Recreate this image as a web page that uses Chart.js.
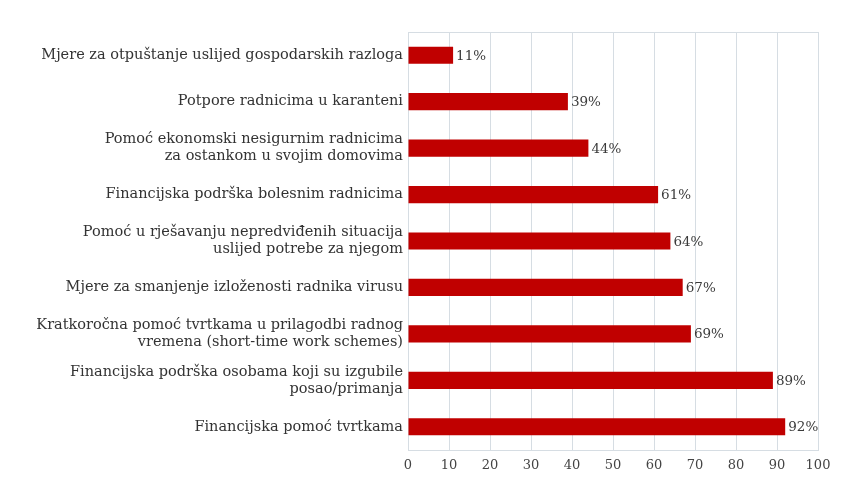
<!DOCTYPE html>
<html>
<head>
<meta charset="utf-8">
<script src="https://cdn.jsdelivr.net/npm/chart.js@4/dist/chart.umd.min.js"></script>
<style>
  html, body { margin: 0; padding: 0; background: #fff; }
  #wrap { width: 841px; height: 481px; }
</style>
</head>
<body>
<div id="wrap"><canvas id="myChart" width="841" height="481"></canvas></div>
<script>
// kategorije (od vrha prema dnu)
const categories = [
    'Mjere za otpuštanje uslijed gospodarskih razloga',
    'Potpore radnicima u karanteni',
    ['Pomoć ekonomski nesigurnim radnicima', 'za ostankom u svojim domovima'],
    'Financijska podrška bolesnim radnicima',
    ['Pomoć u rješavanju nepredviđenih situacija', 'uslijed potrebe za njegom'],
    'Mjere za smanjenje izloženosti radnika virusu',
    ['Kratkoročna pomoć tvrtkama u prilagodbi radnog', 'vremena (short-time work schemes)'],
    ['Financijska podrška osobama koji su izgubile', 'posao/primanja'],
    'Financijska pomoć tvrtkama'
];

// postoci
const values = [11, 39, 44, 61, 64, 67, 69, 89, 92];

const xTicks = [0, 10, 20, 30, 40, 50, 60, 70, 80, 90, 100];

const serif = "DejaVu Serif";

// oznake vrijednosti na kraju stupaca
const valueLabels = {
    id: 'valueLabels',
    afterDatasetsDraw(chart) {
        const ctx = chart.ctx;
        const meta = chart.getDatasetMeta(0);
        ctx.save();
        ctx.font = '13.5px "' + serif + '"';
        ctx.fillStyle = '#3a3a3a';
        ctx.textBaseline = 'middle';
        ctx.textAlign = 'left';
        meta.data.forEach((bar, i) => {
            ctx.fillText(values[i] + '%', bar.x + 3, bar.y + 1);
        });
        ctx.restore();
    }
};

// okvir oko područja grafa
const plotFrame = {
    id: 'plotFrame',
    beforeDatasetsDraw(chart) {
        const a = chart.chartArea;
        const ctx = chart.ctx;
        ctx.save();
        ctx.strokeStyle = '#d6dde3';
        ctx.lineWidth = 1;
        ctx.strokeRect(a.left + 0.5, a.top + 0.5, a.right - a.left, a.bottom - a.top);
        ctx.restore();
    }
};

let ctx = document.getElementById('myChart').getContext('2d');

let myChart = new Chart(ctx, {
    type: 'bar',
    data: {
        labels: categories,
        datasets: [{
            data: values,
            backgroundColor: '#c00000',
            borderColor: '#c00000',
            borderWidth: 0,
            barPercentage: 0.74,
            categoryPercentage: 0.5
        }]
    },
    options: {
        indexAxis: 'y',
        responsive: false,
        animation: false,
        layout: { padding: { left: 10, right: 23, top: 32, bottom: 0 } },
        plugins: {
            legend: { display: false },
            tooltip: { enabled: false }
        },
        scales: {
            x: {
                min: 0,
                max: 100,
                afterBuildTicks(scale) {
                    scale.ticks = xTicks.map(v => ({ value: v }));
                },
                afterFit(scale) {
                    scale.height = 31;
                    scale.paddingRight = 0;
                    scale.paddingLeft = 0;
                },
                grid: { color: '#d6dde3', drawTicks: false },
                border: { display: false },
                ticks: {
                    color: '#444',
                    font: { family: serif, size: 13 },
                    padding: 8
                }
            },
            y: {
                grid: { display: false, drawTicks: false },
                border: { display: false },
                afterFit(scale) { scale.width = 398; },
                ticks: {
                    color: '#333',
                    font: { family: serif, size: 14.5, lineHeight: 1.17 },
                    padding: 5,
                    autoSkip: false
                }
            }
        }
    },
    plugins: [plotFrame, valueLabels]
});
</script>
</body>
</html>
